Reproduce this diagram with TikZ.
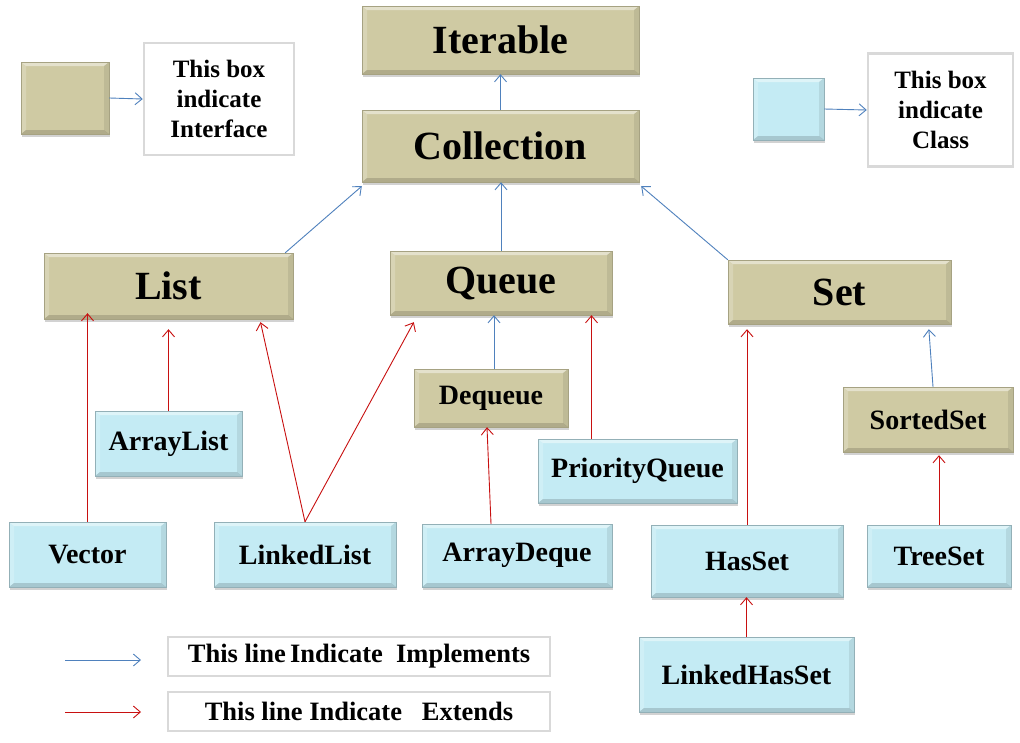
\documentclass[tikz,border=0pt]{standalone}
\usepackage{fontspec}
\setmainfont{Liberation Serif}
\usetikzlibrary{arrows.meta}
\usetikzlibrary{shadows}
\usetikzlibrary{calc}
\definecolor{ifacetan}{RGB}{207,202,163}
\definecolor{classcyan}{RGB}{196,235,244}
\definecolor{implblue}{RGB}{79,129,189}
\definecolor{extred}{RGB}{200,16,16}
\definecolor{notegrey}{RGB}{217,217,217}

\tikzset{
  bevel/.style={path picture={
      \fill[white,opacity=.45] (path picture bounding box.north west) -- (path picture bounding box.north east)
        -- ([shift={(-5pt,-4pt)}]path picture bounding box.north east) -- ([shift={(5pt,-4pt)}]path picture bounding box.north west) -- cycle;
      \fill[white,opacity=.2] (path picture bounding box.north west) -- ([shift={(5pt,-4pt)}]path picture bounding box.north west)
        -- ([shift={(5pt,4pt)}]path picture bounding box.south west) -- (path picture bounding box.south west) -- cycle;
      \fill[black,opacity=.15] (path picture bounding box.south west) -- (path picture bounding box.south east)
        -- ([shift={(-5pt,4pt)}]path picture bounding box.south east) -- ([shift={(5pt,4pt)}]path picture bounding box.south west) -- cycle;
      \fill[black,opacity=.08] (path picture bounding box.north east) -- ([shift={(-5pt,-4pt)}]path picture bounding box.north east)
        -- ([shift={(-5pt,4pt)}]path picture bounding box.south east) -- (path picture bounding box.south east) -- cycle;
    }},
  iface/.style={rectangle, fill=ifacetan, bevel, draw=ifacetan!80!black, line width=.4pt,
    drop shadow={shadow xshift=1pt, shadow yshift=-3pt, opacity=.35}, font=\bfseries\fontsize{28}{30}\selectfont},
  bigiface/.style={iface, font=\bfseries\fontsize{40}{42}\selectfont},
  klass/.style={rectangle, fill=classcyan, bevel, draw=classcyan!75!black, line width=.4pt,
    drop shadow={shadow xshift=1pt, shadow yshift=-3pt, opacity=.35}, font=\bfseries\fontsize{28}{30}\selectfont},
  note/.style={rectangle, draw=notegrey, line width=2.5pt, fill=white, align=center,
    font=\bfseries\fontsize{25}{30}\selectfont},
  linenote/.style={note, font=\bfseries\fontsize{26.5}{30}\selectfont},
  impl/.style={draw=implblue, line width=.9pt, -{Straight Barb[length=7pt,width=12pt]}},
  ext/.style={draw=extred, line width=.9pt, -{Straight Barb[length=7pt,width=12pt]}}
}

\begin{document}
\begin{tikzpicture}[x=1pt, y=-1pt]
  \useasboundingbox[fill=white] (0,0) rectangle (1020,742);

  % interfaces
  \node[bigiface, minimum width=277pt, minimum height=68pt] (iterable) at (500.5,40) {Iterable};
  \node[bigiface, minimum width=277pt, minimum height=72pt] (collection) at (500.5,146) {Collection};
  \node[bigiface, minimum width=249pt, minimum height=66pt] (list) at (168.5,286) {List};
  \node[bigiface, minimum width=222pt, minimum height=64pt] (queue) at (501,283) {Queue};
  \node[bigiface, minimum width=223pt, minimum height=64pt] (set) at (839.5,292) {Set};
  \node[iface, minimum width=154pt, minimum height=58pt] (dequeue) at (491,398) {Dequeue};
  \node[iface, minimum width=170pt, minimum height=65pt] (sortedset) at (928,419.5) {SortedSet};

  % classes
  \node[klass, minimum width=147pt, minimum height=65pt] (arraylist) at (168.5,443.5) {ArrayList};
  \node[klass, minimum width=199pt, minimum height=64pt] (priorityqueue) at (637.5,471) {PriorityQueue};
  \node[klass, minimum width=157pt, minimum height=65pt] (vector) at (87.5,554.5) {Vector};
  \node[klass, minimum width=182pt, minimum height=65pt] (linkedlist) at (305,554.5) {LinkedList};
  \node[klass, minimum width=190pt, minimum height=63pt] (arraydeque) at (517,555.5) {ArrayDeque};
  \node[klass, minimum width=192pt, minimum height=72pt] (hasset) at (747,561) {HasSet};
  \node[klass, minimum width=144pt, minimum height=62pt] (treeset) at (939,556) {TreeSet};
  \node[klass, minimum width=215pt, minimum height=75pt] (linkedhasset) at (746.5,674.5) {LinkedHasSet};

  % legend
  \node[iface, minimum width=88pt, minimum height=72pt] (ifacekey) at (65,98) {};
  \node[note, minimum width=150pt, minimum height=112pt] (ifacenote) at (219,99) {This box\\indicate\\Interface};
  \node[klass, minimum width=71pt, minimum height=62pt] (classkey) at (788.5,109) {};
  \node[note, minimum width=145pt, minimum height=113pt] (classnote) at (940.5,110) {This box\\indicate\\Class};
  \node[linenote, minimum width=382pt, minimum height=39pt] (implnote) at (359,656.5) {This line\,Indicate\ \ Implements};
  \node[linenote, minimum width=382pt, minimum height=39pt] (extnote) at (359,711.5) {This line Indicate\ \ \ Extends};
  \coordinate (implfrom) at (65,660);
  \coordinate (implto) at (141,660);
  \coordinate (extfrom) at (65,712);
  \coordinate (extto) at (141,712);

  \draw[impl] (ifacekey.east) -- (ifacenote.west);
  \draw[impl] (classkey.east) -- (classnote.west);
  \draw[impl] (implfrom) -- (implto);
  \draw[ext] (extfrom) -- (extto);

  % implements
  \draw[impl] (collection.north) -- (collection.north |- iterable.south);
  \draw[impl] ([xshift=-8pt]list.north east) -- ([yshift=-4pt]collection.south west);
  \draw[impl] (queue.north) -- (queue.north |- collection.south);
  \draw[impl] (set.north west) -- ([xshift=2pt,yshift=-4pt]collection.south east);
  \draw[impl] ([xshift=3pt]dequeue.north) -- ([xshift=3pt]dequeue.north |- queue.south);
  \draw[impl, shorten >=5pt] ([xshift=5pt]sortedset.north) -- ([xshift=89pt]set.south);

  % extends
  \draw[ext, shorten >=-6pt] (vector.north) -- (vector.north |- list.south);
  \draw[ext, shorten >=10pt] (arraylist.north) -- (arraylist.north |- list.south);
  \draw[ext] (linkedlist.north) -- ([xshift=92pt,yshift=-3pt]list.south);
  \draw[ext] (linkedlist.north) -- ([xshift=24pt,yshift=-7pt]queue.south west);
  \draw[ext] ([xshift=-26pt]arraydeque.north) -- ([xshift=-4pt]dequeue.south);
  \draw[ext] ([xshift=-46pt]priorityqueue.north) -- ([xshift=-46pt]priorityqueue.north |- queue.south);
  \draw[ext, shorten >=5pt] (hasset.north) -- (hasset.north |- set.south);
  \draw[ext, shorten >=3pt] (treeset.north) -- (treeset.north |- sortedset.south);
  \draw[ext] (linkedhasset.north) -- (linkedhasset.north |- hasset.south);
\end{tikzpicture}
\end{document}
